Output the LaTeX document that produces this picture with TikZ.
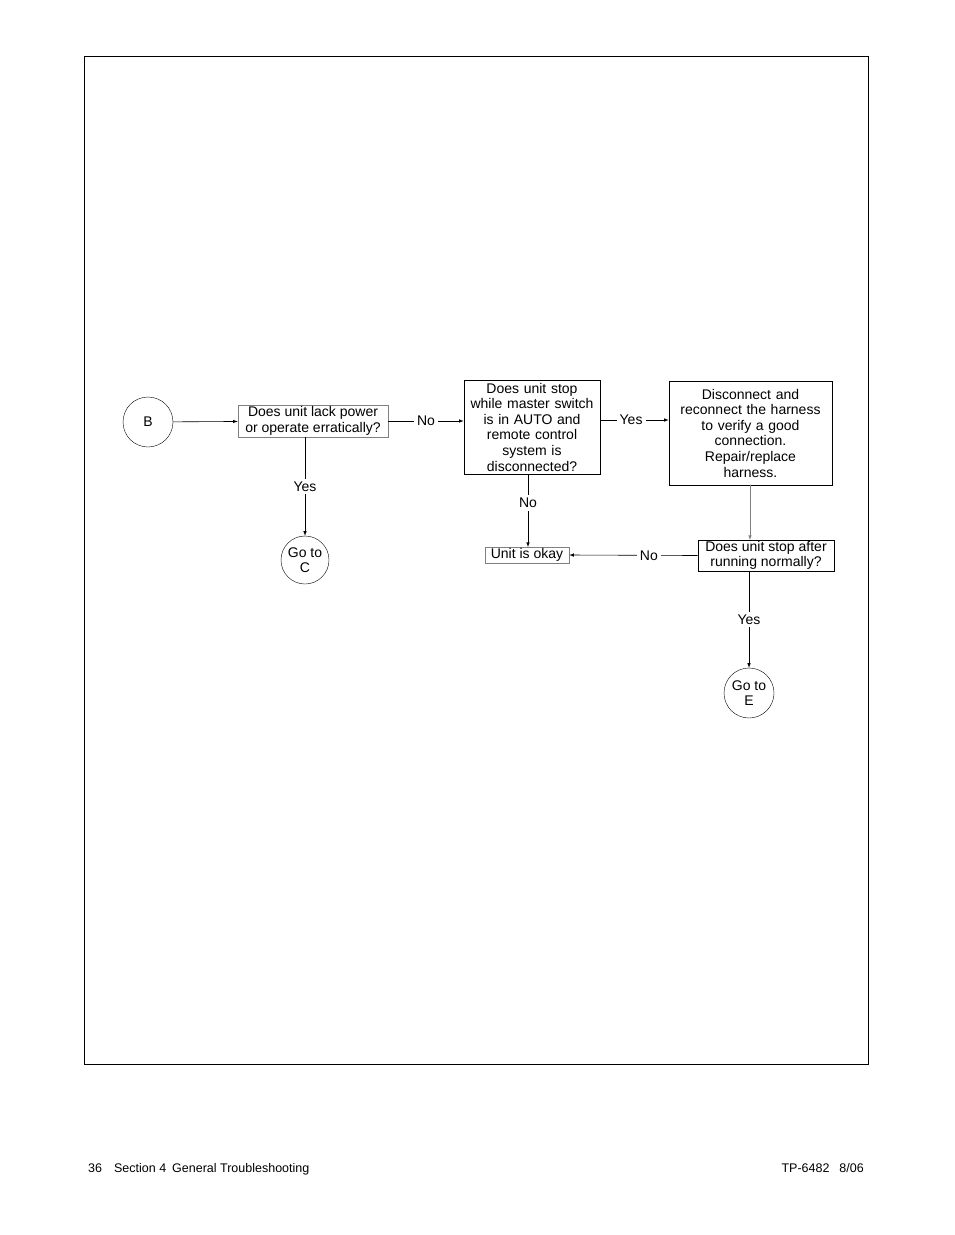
\documentclass[tikz,border=0pt]{standalone}
\usepackage{fontspec}
\setmainfont{Liberation Sans}
\usetikzlibrary{positioning}
\begin{document}
\begin{tikzpicture}
[
x=1pt,y=-1pt,
font=\fontsize{14}{15.5}\selectfont,
qbox/.style={draw,line width=0.6pt,align=center,inner sep=1pt},
gbox/.style={draw=gray,line width=0.5pt,align=center,inner sep=1pt},
term/.style={draw,circle,minimum size=#1,inner sep=0pt,align=center},
lab/.style={fill=white,inner sep=3pt},
flow/.style={-latex,line width=0.6pt},
]
\useasboundingbox (0,0) rectangle (954,1235);
\draw[line width=0.8pt] (84,56) rectangle (868,1064);

%Place the nodes
\node[term=50pt] (b) at (148,422) {B};
\node[gbox,minimum width=150pt,minimum height=32pt] (lack) at (313,421) {Does unit lack power\\or operate erratically?};
\node[qbox,minimum width=136pt,minimum height=94pt,text width=132pt,font=\fontsize{14}{15.6}\selectfont] (stop) at (532,427) {Does unit stop\\while master switch\\is in AUTO and\\remote control\\system is\\disconnected?};
\node[qbox,minimum width=163pt,minimum height=104pt,text width=158pt,font=\fontsize{14}{15.6}\selectfont] (harn) at (750.5,433) {Disconnect and\\reconnect the harness\\to verify a good\\connection.\\Repair/replace\\harness.};
\node[term=48pt] (goc) at (305,560) {Go to\\C};
\node[gbox,minimum width=84pt,minimum height=16pt] (okay) at (527,555) {Unit is okay};
\node[qbox,minimum width=136pt,minimum height=31pt] (after) at (766,555.5) {Does unit stop after\\running normally?};
\node[term=50pt] (goe) at (749,693) {Go to\\E};

%Draw the connections
\draw[flow] (b) -- (lack);
\draw[flow] (lack.east |- 0,421) -- (stop.west |- 0,421) node[lab,pos=0.5] {No};
\draw[flow] (stop.east |- 0,420) -- (harn.west |- 0,420) node[lab,pos=0.45] {Yes};
\draw[flow] (305,437) -- (goc) node[lab,pos=0.5] {Yes};
\draw[flow] (528,474) -- (528,547) node[lab,pos=0.4] {No};
\draw[flow,draw=gray] (750,485) -- (750,540);
\draw[flow] (after.west) -- (okay.east) node[lab,pos=0.38] {No};
\draw[flow] (749,571) -- (goe) node[lab,pos=0.5] {Yes};

\node[anchor=base west,inner sep=0pt,font=\fontsize{12.5}{14}\selectfont] (foot1) at (88,1172) {36\hspace{12pt}Section 4\hspace{6pt}General Troubleshooting};
\node[anchor=base east,inner sep=0pt,font=\fontsize{12.5}{14}\selectfont] (foot2) at (864,1172) {TP-6482\hspace{10pt}8/06};
\end{tikzpicture}
\end{document}
